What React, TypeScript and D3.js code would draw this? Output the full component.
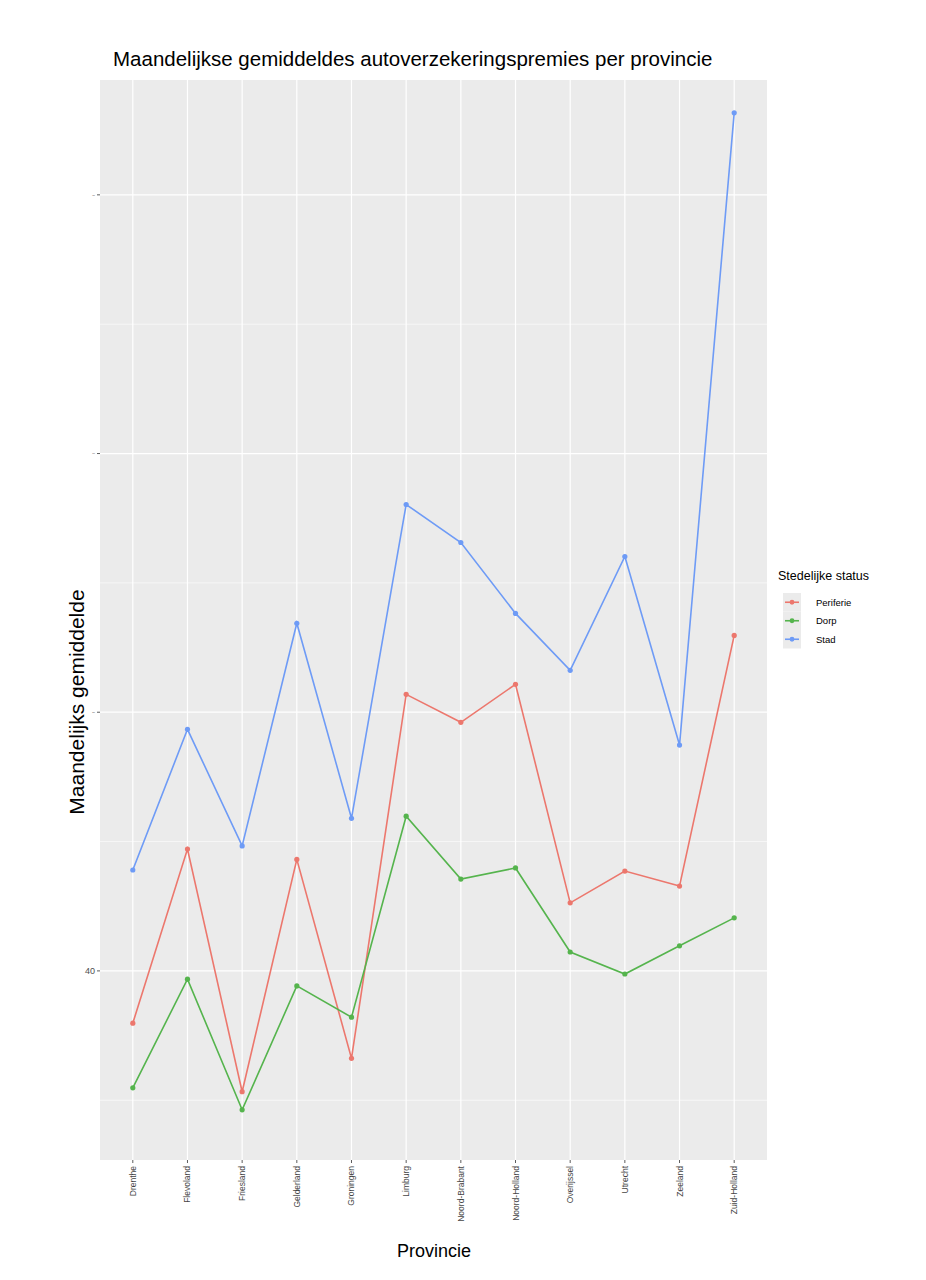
import React from "react";
import * as d3 from "d3";

const provinces = ["Drenthe","Flevoland","Friesland","Gelderland","Groningen","Limburg","Noord-Brabant","Noord-Holland","Overijssel","Utrecht","Zeeland","Zuid-Holland"];
const periferie = [37.98, 44.71, 35.33, 44.31, 36.62, 50.69, 49.61, 51.08, 42.63, 43.86, 43.28, 52.97];
const dorp = [35.48, 39.68, 34.63, 39.42, 38.21, 45.98, 43.55, 43.98, 40.73, 39.88, 40.97, 42.05];
const stad = [43.9, 49.34, 44.83, 53.44, 45.9, 58.03, 56.56, 53.82, 51.62, 56.02, 48.73, 73.17];
const seriesNames = ["Periferie","Dorp","Stad"];
const seriesColors = ["#EC776D","#55B44D","#6E9BF6"];
const yMajor = [40, 50, 60, 70];
const yMinor = [35, 45, 55, 65];

export default function App() {
  const W = 926, H = 1280;
  const left = 100, right = 767, top = 80, bottom = 1160;
  const x = d3.scalePoint<string>().domain(provinces).range([left, right]).padding(0.6);
  const y = d3.scaleLinear().domain([32.69, 74.44]).range([bottom, top]);
  const allSeries = [periferie, dorp, stad];
  const line = d3.line<number>().x((_, i) => x(provinces[i])!).y(d => y(d));
  const font = "'Liberation Sans', Arial, sans-serif";
  const dataDraw = [0, 1, 2];
  return (
    <svg width={W} height={H} style={{ display: "block", position: "absolute", left: 0, top: 0 }} fontFamily={font}>
      <rect x={0} y={0} width={W} height={H} fill="white" />
      <rect x={left} y={top} width={right - left} height={bottom - top} fill="#EBEBEB" />
      {yMinor.map(v => (
        <line key={"mi" + v} x1={left} x2={right} y1={y(v)} y2={y(v)} stroke="white" strokeWidth={0.6} />
      ))}
      {yMajor.map(v => (
        <line key={"ma" + v} x1={left} x2={right} y1={y(v)} y2={y(v)} stroke="white" strokeWidth={1.2} />
      ))}
      {provinces.map(p => (
        <line key={"vx" + p} x1={x(p)} x2={x(p)} y1={top} y2={bottom} stroke="white" strokeWidth={1.2} />
      ))}
      {dataDraw.map(si => (
        <g key={seriesNames[si]}>
          <path d={line(allSeries[si])!} fill="none" stroke={seriesColors[si]} strokeWidth={1.6} />
          {allSeries[si].map((v, i) => (
            <circle key={i} cx={x(provinces[i])} cy={y(v)} r={2.6} fill={seriesColors[si]} />
          ))}
        </g>
      ))}
      {yMajor.map(v => (
        <g key={"yt" + v}>
          <line x1={left - 3} x2={left} y1={y(v)} y2={y(v)} stroke="#333" strokeWidth={0.8} />
          <text x={left - 5} y={y(v)} dy="0.35em" textAnchor="end" fontSize={v === 40 ? 9 : 2.5} fill="#4D4D4D">{v}</text>
        </g>
      ))}
      {provinces.map(p => (
        <g key={"xt" + p}>
          <line x1={x(p)} x2={x(p)} y1={bottom} y2={bottom + 3} stroke="#333" strokeWidth={0.8} />
          <text transform={`translate(${x(p)! + 3},${bottom + 6}) rotate(-90)`} textAnchor="end" fontSize={8.5} fill="#444">{p}</text>
        </g>
      ))}
      <text x={113} y={66} fontSize={20.5} fill="black">Maandelijkse gemiddeldes autoverzekeringspremies per provincie</text>
      <text transform={`translate(${84},${(top + bottom) / 2 + 82}) rotate(-90)`} textAnchor="middle" fontSize={21} fill="black">Maandelijks gemiddelde</text>
      <text x={434} y={1257} textAnchor="middle" fontSize={18} fill="black">Provincie</text>
      <text x={778} y={580} fontSize={12.5} fill="black">Stedelijke status</text>
      {seriesNames.map((n, i) => (
        <g key={"lg" + n} transform={`translate(783,${593 + i * 18.5})`}>
          <rect x={0} y={0} width={18} height={18.5} fill="#EBEBEB" />
          <line x1={2} x2={16} y1={9.25} y2={9.25} stroke={seriesColors[i]} strokeWidth={1.6} />
          <circle cx={9} cy={9.25} r={2.4} fill={seriesColors[i]} />
          <text x={33} y={9.25} dy="0.35em" fontSize={9.5} fill="black">{n}</text>
        </g>
      ))}
    </svg>
  );
}
